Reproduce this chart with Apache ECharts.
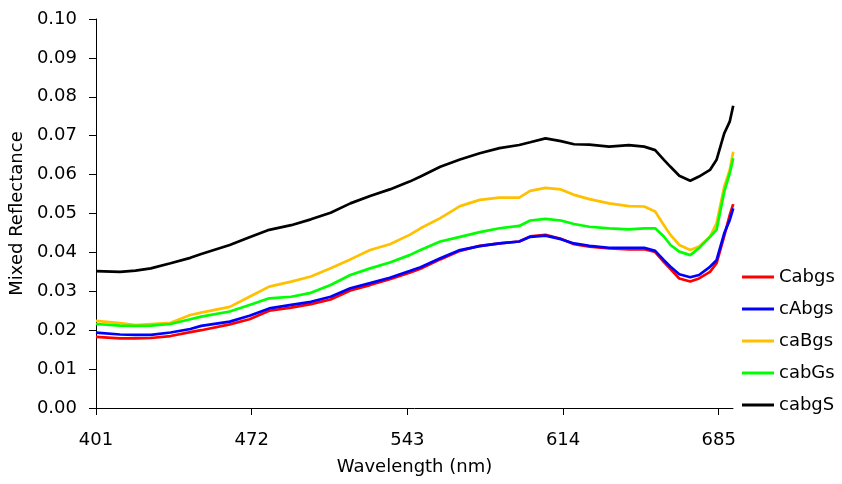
<!DOCTYPE html>
<html>
<head>
<meta charset="utf-8">
<script src="https://cdn.jsdelivr.net/npm/echarts@6/dist/echarts.min.js"></script>
<style>
html,body{margin:0;padding:0;background:#fff;}
#chart{width:842px;height:484px;}
</style>
</head>
<body>
<div id="chart"></div>
<script>
var wavelengths = [401, 412, 419, 426, 435, 444, 449, 462, 471, 480, 490, 499, 508, 517, 526, 535, 544, 549, 558, 567, 576, 585, 594, 599, 606, 613, 619, 626, 635, 644, 651, 656, 660, 663, 667, 672, 676, 681, 684, 687.5, 690, 691.6];

var Cabgs = [0.0183, 0.0179, 0.0179, 0.0180, 0.0185, 0.0195, 0.0200, 0.0215, 0.0228, 0.0250, 0.0258, 0.0267, 0.0279, 0.0302, 0.0316, 0.0331, 0.0348, 0.0358, 0.0382, 0.0404, 0.0417, 0.0423, 0.0428, 0.0441, 0.0445, 0.0435, 0.0421, 0.0415, 0.0410, 0.0408, 0.0408, 0.0401, 0.0375, 0.0357, 0.0333, 0.0325, 0.0333, 0.0350, 0.0372, 0.0442, 0.0496, 0.0524];
var cAbgs = [0.0194, 0.0189, 0.0188, 0.0188, 0.0194, 0.0203, 0.0211, 0.0222, 0.0237, 0.0256, 0.0265, 0.0273, 0.0286, 0.0308, 0.0321, 0.0335, 0.0352, 0.0362, 0.0385, 0.0406, 0.0416, 0.0423, 0.0428, 0.0440, 0.0443, 0.0434, 0.0423, 0.0417, 0.0412, 0.0412, 0.0412, 0.0404, 0.0380, 0.0363, 0.0344, 0.0336, 0.0342, 0.0363, 0.0380, 0.0449, 0.0483, 0.0513];
var caBgs = [0.0224, 0.0218, 0.0213, 0.0216, 0.0219, 0.0239, 0.0245, 0.0260, 0.0286, 0.0312, 0.0325, 0.0338, 0.0359, 0.0382, 0.0406, 0.0421, 0.0445, 0.0462, 0.0488, 0.0519, 0.0535, 0.0541, 0.0541, 0.0558, 0.0566, 0.0562, 0.0548, 0.0537, 0.0526, 0.0519, 0.0518, 0.0505, 0.0470, 0.0445, 0.0419, 0.0406, 0.0415, 0.0440, 0.0475, 0.0569, 0.0612, 0.0659];
var cabGs = [0.0216, 0.0212, 0.0211, 0.0212, 0.0216, 0.0228, 0.0235, 0.0248, 0.0265, 0.0282, 0.0286, 0.0296, 0.0316, 0.0342, 0.0359, 0.0374, 0.0393, 0.0406, 0.0428, 0.0440, 0.0452, 0.0462, 0.0468, 0.0482, 0.0486, 0.0482, 0.0473, 0.0466, 0.0462, 0.0459, 0.0462, 0.0462, 0.0441, 0.0419, 0.0402, 0.0393, 0.0411, 0.0440, 0.0458, 0.0556, 0.0603, 0.0642];
var cabgS = [0.0352, 0.0350, 0.0353, 0.0359, 0.0372, 0.0386, 0.0396, 0.0419, 0.0439, 0.0458, 0.0470, 0.0485, 0.0502, 0.0526, 0.0545, 0.0562, 0.0582, 0.0595, 0.0620, 0.0639, 0.0655, 0.0668, 0.0676, 0.0683, 0.0693, 0.0686, 0.0678, 0.0677, 0.0672, 0.0676, 0.0672, 0.0663, 0.0638, 0.0620, 0.0597, 0.0584, 0.0595, 0.0612, 0.0638, 0.0706, 0.0736, 0.0777];

var seriesNames = ['Cabgs', 'cAbgs', 'caBgs', 'cabGs', 'cabgS'];
var seriesValues = [Cabgs, cAbgs, caBgs, cabGs, cabgS];
var seriesColors = ['#FF0000', '#0000FF', '#FFC000', '#00FF00', '#000000'];
var xTicks = [401, 472, 543, 614, 685];

var FONT = 'DejaVu Sans';
var FS = 18;

function pairs(vals) {
  return wavelengths.map(function (w, i) { return [w, vals[i]]; });
}

var chart = echarts.init(document.getElementById('chart'), null, {renderer: 'canvas'});
chart.setOption({
  animation: false,
  backgroundColor: '#ffffff',
  grid: {left: 95, right: 109, top: 19, bottom: 76, containLabel: false},
  legend: {
    orient: 'vertical',
    left: 742,
    top: 268,
    padding: 0,
    icon: 'rect',
    itemWidth: 32,
    itemHeight: 3,
    itemGap: 14,
    textStyle: {fontFamily: FONT, fontSize: FS, color: '#000'},
    data: seriesNames
  },
  xAxis: {
    type: 'value',
    min: 401,
    max: 691.5,
    interval: 71,
    name: 'Wavelength (nm)',
    nameLocation: 'middle',
    nameGap: 50,
    nameTextStyle: {fontFamily: FONT, fontSize: FS, color: '#000'},
    axisLine: {show: true, onZero: false, lineStyle: {color: '#000', width: 1}},
    axisTick: {show: true, inside: false, length: 7, lineStyle: {color: '#000'}, customValues: xTicks},
    axisLabel: {fontFamily: FONT, fontSize: FS, color: '#000', margin: 23, customValues: xTicks},
    splitLine: {show: false}
  },
  yAxis: {
    type: 'value',
    min: 0,
    max: 0.1,
    interval: 0.01,
    name: 'Mixed Reflectance',
    nameLocation: 'middle',
    nameGap: 68,
    nameTextStyle: {fontFamily: FONT, fontSize: FS, color: '#000'},
    axisLine: {show: true, lineStyle: {color: '#000', width: 1}},
    axisTick: {show: true, inside: false, length: 7, lineStyle: {color: '#000'}},
    axisLabel: {fontFamily: FONT, fontSize: FS, color: '#000', margin: 19,
      formatter: function (v) { return v.toFixed(2); }},
    splitLine: {show: false}
  },
  series: seriesNames.map(function (n, i) {
    return {
      name: n,
      type: 'line',
      data: pairs(seriesValues[i]),
      symbol: 'none',
      smooth: false,
      color: seriesColors[i],
      lineStyle: {color: seriesColors[i], width: 2.7}
    };
  })
});
</script>
</body>
</html>
